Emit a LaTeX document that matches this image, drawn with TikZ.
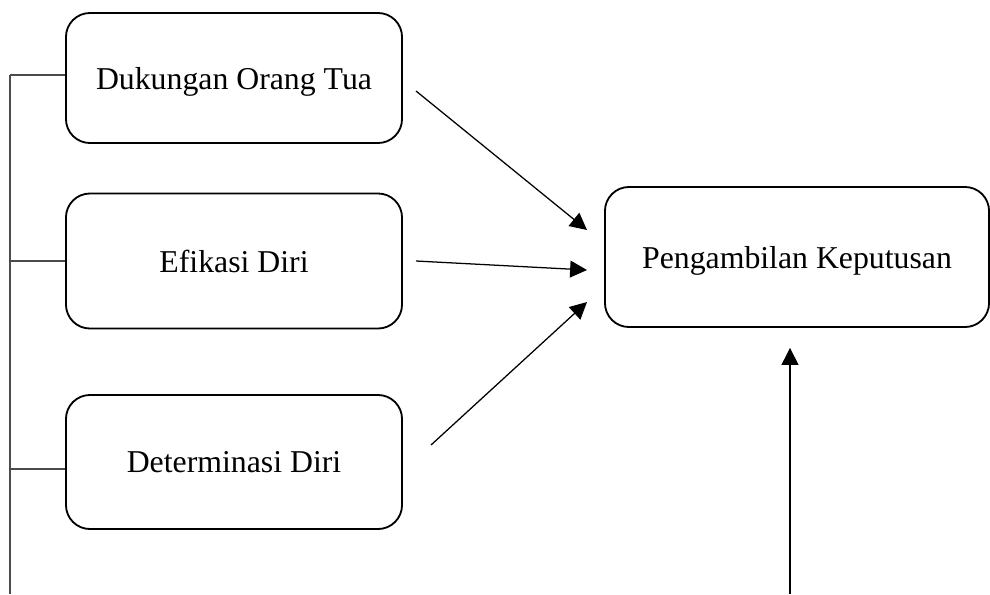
\documentclass[tikz,border=0pt]{standalone}
\usepackage{fontspec}
\setmainfont{Liberation Serif}
\usepackage{tikz}
\usetikzlibrary{arrows.meta}

\begin{document}
\begin{tikzpicture}[x=0.025cm, y=-0.025cm,
  factor/.style={draw, line width=1.3pt, rounded corners=0.6cm, align=center,
    text depth=0pt, font=\fontsize{22.6}{27}\selectfont},
  arr/.style={line width=0.9pt, -{Triangle[length=12pt, width=12pt]}},
  tie/.style={line width=1.3pt, color=black!70}]
\useasboundingbox (0,0) rectangle (990,594);

\node[factor, minimum width=8.4cm, minimum height=3.25cm] (dukungan) at (234, 78) {Dukungan Orang Tua};
\node[factor, minimum width=8.4cm, minimum height=3.375cm] (efikasi) at (234, 261) {Efikasi Diri};
\node[factor, minimum width=8.4cm, minimum height=3.35cm] (determinasi) at (234, 462) {Determinasi Diri};
\node[factor, minimum width=9.6cm, minimum height=3.5cm] (keputusan) at (797, 257) {Pengambilan Keputusan};

% left bracket
\coordinate (spinetop) at (10, 75);
\coordinate (spinebot) at (10, 594);
\draw[tie] (spinetop) -- (spinebot);
\draw[tie] (dukungan.west |- spinetop) -- (spinetop);
\draw[tie] (efikasi.west) -- (efikasi.west -| spinetop);
\draw[tie] (determinasi.west) ++(0,7) -- (10, 469);

% arrows into the decision box
\coordinate (s1) at (416, 91);
\coordinate (t1) at (587, 230);
\coordinate (s2) at (416, 261);
\coordinate (t2) at (587, 270);
\coordinate (s3) at (431, 445);
\coordinate (t3) at (587, 302);
\draw[arr] (s1) -- (t1);
\draw[arr] (s2) -- (t2);
\draw[arr] (s3) -- (t3);

\coordinate (s4) at (790, 594);
\draw[arr, shorten >=0.5cm] (s4) -- (s4 |- keputusan.south);
\end{tikzpicture}
\end{document}
